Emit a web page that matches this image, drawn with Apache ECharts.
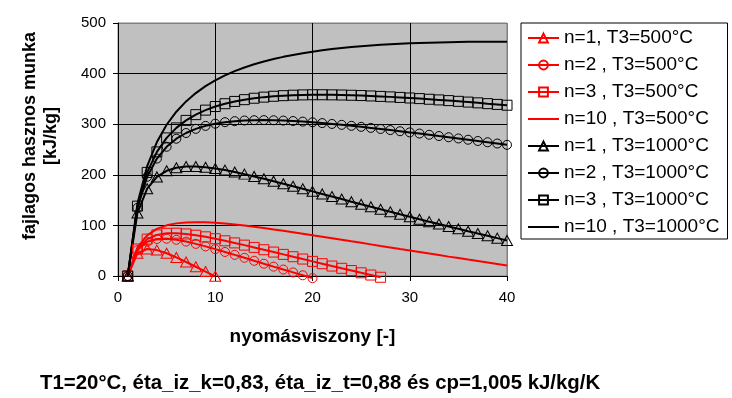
<!DOCTYPE html>
<html>
<head>
<meta charset="utf-8">
<script src="https://cdn.jsdelivr.net/npm/echarts@6/dist/echarts.min.js"></script>
<style>
  html, body { margin: 0; padding: 0; background: #fff; }
  #chart { width: 732px; height: 398px; }
</style>
</head>
<body>
<div id="chart"></div>
<script>
// nyomásviszony (pressure ratio)
const pr = [1, 2, 3, 4, 5, 6, 7, 8, 9, 10, 11, 12, 13, 14, 15, 16, 17, 18, 19, 20,
  21, 22, 23, 24, 25, 26, 27, 28, 29, 30, 31, 32, 33, 34, 35, 36, 37, 38, 39, 40];

// T3 = 500°C
const w1_500 = [0, 45.1, 53.4, 51.2, 44.9, 36.7, 27.7, 18.3, 8.8, -0.6];
const w2_500 = [0, 51.2, 67.8, 73.2, 73.7, 71.6, 68.0, 63.5, 58.5, 53.1, 47.5, 41.8, 36.0, 30.1,
  24.3, 18.5, 12.8, 7.1, 1.4, -4.2];
const w3_500 = [0, 53.3, 72.9, 81.2, 84.3, 84.6, 83.1, 80.6, 77.4, 73.7, 69.6, 65.4, 61.0, 56.5,
  51.9, 47.3, 42.7, 38.1, 33.5, 28.9, 24.3, 19.7, 15.2, 10.8, 6.3, 1.9, -2.5];
const w10_500 = [0, 56.4, 80.4, 93.1, 100.1, 104.0, 105.9, 106.4, 106.1, 105.1, 103.6, 101.7, 99.6,
  97.2, 94.7, 92.0, 89.3, 86.4, 83.5, 80.6, 77.6, 74.6, 71.6, 68.5, 65.5, 62.5, 59.4, 56.4, 53.3,
  50.3, 47.3, 44.3, 41.3, 38.3, 35.4, 32.4, 29.5, 26.6, 23.7, 20.8];

// T3 = 1000°C
const w1_1000 = [0, 124.6, 172.5, 195.8, 207.9, 213.9, 216.3, 216.4, 215.0, 212.5, 209.3, 205.5,
  201.3, 196.8, 192.2, 187.4, 182.4, 177.4, 172.4, 167.3, 162.2, 157.1, 152.0, 146.9, 141.9, 136.8,
  131.8, 126.9, 121.9, 117.0, 112.2, 107.4, 102.6, 97.9, 93.2, 88.5, 83.9, 79.4, 74.8, 70.3];
const w2_1000 = [0, 134.6, 196.2, 232.1, 255.4, 271.3, 282.6, 290.8, 296.7, 301.0, 304.0, 306.0,
  307.3, 307.9, 308.1, 307.8, 307.1, 306.3, 305.1, 303.8, 302.2, 300.5, 298.7, 296.8, 294.8, 292.7,
  290.6, 288.4, 286.1, 283.8, 281.5, 279.1, 276.6, 274.2, 271.8, 269.3, 266.8, 264.3, 261.8, 259.2];
const w3_1000 = [0, 138.1, 204.7, 245.3, 272.9, 292.7, 307.5, 318.9, 327.8, 334.9, 340.5, 345.0,
  348.5, 351.3, 353.5, 355.2, 356.4, 357.3, 357.9, 358.2, 358.2, 358.0, 357.7, 357.2, 356.6, 355.8,
  354.9, 354.0, 352.9, 351.8, 350.6, 349.3, 348.0, 346.6, 345.2, 343.7, 342.2, 340.6, 339.1, 337.5];
const w10_1000 = [0, 143.1, 217.1, 264.8, 298.9, 324.7, 345.0, 361.5, 375.2, 386.6, 396.4, 404.8,
  412.1, 418.4, 423.9, 428.8, 433.1, 436.9, 440.3, 443.3, 446.0, 448.4, 450.5, 452.4, 454.0, 455.5,
  456.8, 458.0, 459.0, 459.8, 460.6, 461.2, 461.7, 462.2, 462.5, 462.8, 463.0, 463.1, 463.1, 463.1];

const xTicks = [0, 10, 20, 30, 40];
const yTicks = [0, 100, 200, 300, 400, 500];

const font = "'Liberation Sans', Arial, sans-serif";

function line(name, w, color, symbol, size) {
  return {
    name: name,
    type: 'line',
    data: w.map((v, i) => [pr[i], v]),
    // n=10 has no markers: keep a hidden circle so the legend shows the bare line
    symbol: symbol || 'circle',
    symbolSize: size || 0,
    showSymbol: !!symbol,
    clip: false,
    lineStyle: { color: color, width: 2 },
    itemStyle: { color: 'transparent', borderColor: color, borderWidth: symbol ? 1 : 0 },
    emphasis: { disabled: true },
    z: 3
  };
}

const chart = echarts.init(document.getElementById('chart'), null, { renderer: 'canvas' });

chart.setOption({
  animation: false,
  backgroundColor: '#fff',
  textStyle: { fontFamily: font, color: '#000' },
  grid: {
    left: 118, right: 225, top: 23, bottom: 122,
    show: true, backgroundColor: '#c0c0c0', borderColor: '#808080', borderWidth: 1
  },
  xAxis: {
    type: 'value',
    min: xTicks[0], max: xTicks[xTicks.length - 1], interval: 10,
    name: 'nyomásviszony [-]',
    nameLocation: 'middle',
    nameGap: 51,
    nameTextStyle: { fontFamily: font, fontSize: 19, fontWeight: 'bold', color: '#000' },
    axisLine: { lineStyle: { color: '#000', width: 1 } },
    axisTick: { show: true, length: 5, lineStyle: { color: '#000' } },
    axisLabel: { margin: 14, fontFamily: font, fontSize: 15, color: '#000' },
    splitLine: { lineStyle: { color: ['#000', '#000', '#000', '#000', '#808080'], width: 1 } }
  },
  yAxis: {
    type: 'value',
    min: yTicks[0], max: yTicks[yTicks.length - 1], interval: 100,
    axisLine: { show: true, lineStyle: { color: '#000', width: 1 } },
    axisTick: { show: true, length: 5, lineStyle: { color: '#000' } },
    axisLabel: { margin: 12, fontFamily: font, fontSize: 15, color: '#000' },
    splitLine: { lineStyle: { color: ['#000', '#000', '#000', '#000', '#000', '#808080'], width: 1 } }
  },
  legend: {
    orient: 'vertical',
    left: 521, top: 23,
    padding: [5, 8, 2, 6],
    itemWidth: 31, itemHeight: 11, itemGap: 7,
    backgroundColor: '#fff', borderColor: '#000', borderWidth: 1, borderRadius: 0,
    selectedMode: false,
    textStyle: { fontFamily: font, fontSize: 19, lineHeight: 20, color: '#000' }
  },
  graphic: [
    {
      type: 'text', x: 41, y: 136, rotation: Math.PI / 2,
      style: {
        text: 'fajlagos hasznos munka\n[kJ/kg]',
        font: 'bold 18px ' + font, fill: '#000',
        align: 'center', verticalAlign: 'middle', lineHeight: 21
      }
    },
    {
      type: 'text', x: 40, y: 383,
      style: {
        text: 'T1=20°C, éta_iz_k=0,83, éta_iz_t=0,88 és cp=1,005 kJ/kg/K',
        font: 'bold 20.4px ' + font, fill: '#000',
        align: 'left', verticalAlign: 'middle'
      }
    }
  ],
  series: [
    line('n=1, T3=500°C', w1_500, '#ff0000', 'triangle', [11, 10]),
    line('n=2 , T3=500°C', w2_500, '#ff0000', 'circle', 9),
    line('n=3 , T3=500°C', w3_500, '#ff0000', 'rect', 10),
    line('n=10 , T3=500°C', w10_500, '#ff0000'),
    line('n=1 , T3=1000°C', w1_1000, '#000000', 'triangle', [11, 10]),
    line('n=2 , T3=1000°C', w2_1000, '#000000', 'circle', 9),
    line('n=3 , T3=1000°C', w3_1000, '#000000', 'rect', 10),
    line('n=10 , T3=1000°C', w10_1000, '#000000')
  ]
});
</script>
</body>
</html>
